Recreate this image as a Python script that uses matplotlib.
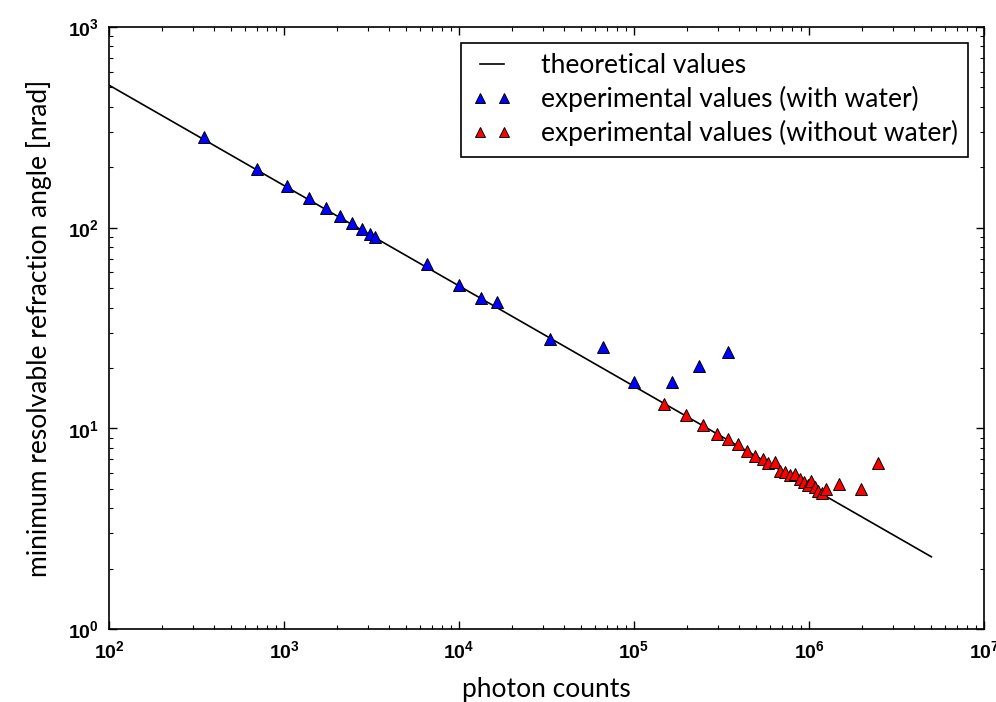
import numpy as np
import matplotlib
matplotlib.use('Agg')
import matplotlib.pyplot as plt
from matplotlib.ticker import FuncFormatter, LogLocator

# theoretical curve (straight line in log-log), end points
theory_x = [1e2, 5e6]
theory_y = [513, 2.29]

# experimental values with water
water_x = [348, 698, 1040, 1397, 1747, 2089, 2437, 2780, 3117, 3330, 6600,
           9950, 13300, 16560, 33300, 66200, 100000, 165700, 235000, 344000]
water_y = [284, 196, 162, 140, 125, 114, 106, 99, 93, 89.8, 65.9,
           51.8, 44.4, 42.6, 27.9, 25.3, 17.1, 17.1, 20.4, 24.1]

# experimental values without water
dry_x = [147800, 197400, 247000, 296000, 344000, 395000, 442000, 494000,
         544000, 586000, 640000, 680000, 733000, 783000, 832000, 885000,
         933000, 983000, 1030000, 1080000, 1125000, 1180000, 1245000,
         1480000, 1980000, 2470000]
dry_y = [13.2, 11.65, 10.4, 9.37, 8.84, 8.32, 7.73, 7.30,
         7.03, 6.69, 6.79, 6.15, 6.04, 5.87, 5.89, 5.59,
         5.40, 5.20, 5.46, 5.12, 4.89, 4.74, 4.99,
         5.30, 4.99, 6.74]

plt.rcParams['mathtext.fontset'] = 'custom'
plt.rcParams['mathtext.rm'] = 'Liberation Sans'
plt.rcParams['mathtext.bf'] = 'Liberation Sans:bold'
plt.rcParams['font.family'] = ['Lato', 'DejaVu Sans']

fig = plt.figure(figsize=(9.96, 7.02), dpi=100)
ax = fig.add_axes([0.1095, 0.104, 0.8785, 0.8575])

ax.plot(theory_x, theory_y, color='black', linewidth=1.2, label='theoretical values')
ax.plot(water_x, water_y, linestyle='none', marker='^', markersize=8,
        markerfacecolor='#0000ff', markeredgecolor='black', markeredgewidth=0.7,
        label='experimental values (with water)')
ax.plot(dry_x, dry_y, linestyle='none', marker='^', markersize=8,
        markerfacecolor='#ff0000', markeredgecolor='black', markeredgewidth=0.7,
        label='experimental values (without water)')

ax.set_xscale('log')
ax.set_yscale('log')
ax.set_xlim(1e2, 1e7)
ax.set_ylim(1e0, 1e3)

fmt = FuncFormatter(lambda v, p: r'$\mathbf{10^{%d}}$' % int(round(np.log10(v))))
ax.xaxis.set_major_formatter(fmt)
ax.yaxis.set_major_formatter(fmt)
ax.xaxis.set_minor_locator(LogLocator(base=10, subs=np.arange(2, 10)))
ax.yaxis.set_minor_locator(LogLocator(base=10, subs=np.arange(2, 10)))
ax.tick_params(which='both', direction='in', top=True, right=True, labelsize=14)
ax.tick_params(which='major', length=6, width=1, pad=7)
ax.tick_params(which='minor', length=3, width=0.8)
for s in ax.spines.values():
    s.set_linewidth(1.2)

ax.set_xlabel('photon counts', fontsize=19, labelpad=12)
ax.set_ylabel('minimum resolvable refraction angle [nrad]', fontsize=19, labelpad=12)

leg = ax.legend(loc='upper right', numpoints=2, markerscale=0.85, fontsize=19,
                fancybox=False, edgecolor='black', framealpha=1,
                handlelength=1.5, handletextpad=1.1, labelspacing=0.3,
                borderpad=0.4, borderaxespad=0.6)
leg.get_frame().set_linewidth(1.2)

fig.savefig('out.png', dpi=100)
